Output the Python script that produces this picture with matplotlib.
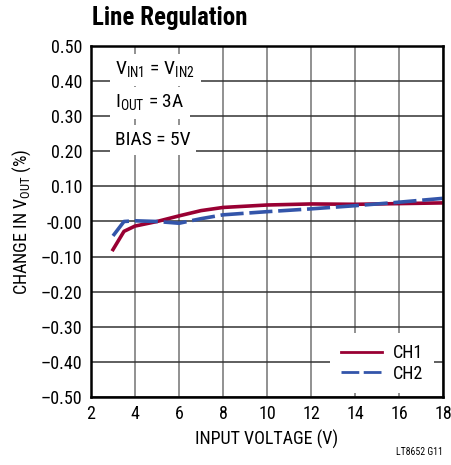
import matplotlib.pyplot as plt
import numpy as np

plt.rcParams['font.family'] = ['Roboto Condensed', 'Liberation Sans', 'DejaVu Sans']
plt.rcParams['mathtext.fontset'] = 'custom'
plt.rcParams['mathtext.rm'] = 'Roboto Condensed'

# CH1 / CH2 line regulation data
vin1 = [3.0, 3.5, 4.0, 5.0, 6.0, 7.0, 8.0, 10.0, 12.0, 14.0, 16.0, 18.0]
ch1 = [-0.080, -0.028, -0.013, 0.000, 0.016, 0.031, 0.040, 0.047, 0.050, 0.049, 0.051, 0.053]
vin2 = [3.0, 3.5, 4.0, 5.0, 6.0, 7.0, 8.0, 10.0, 12.0, 14.0, 16.0, 18.0]
ch2 = [-0.041, 0.000, 0.002, 0.000, -0.005, 0.008, 0.019, 0.028, 0.036, 0.045, 0.055, 0.066]

xticks = np.arange(2, 19, 2)
yticks = np.arange(-0.5, 0.51, 0.1)
notes = [r'V$_{\rm IN1}$ = V$_{\rm IN2}$', r'I$_{\rm OUT}$ = 3A', 'BIAS = 5V']
note_y = [0.432, 0.338, 0.232]

fig = plt.figure(figsize=(4.51, 4.65), dpi=100)
ax = fig.add_axes([91/451, 68/465, 352/451, 351/465])

for x in xticks:
    ax.axvline(x, color='#888888', lw=1.3, zorder=1)
for y in yticks:
    ax.axhline(y, color='#333333', lw=1.1, zorder=1)

ax.plot(vin1, ch1, color='#990033', lw=2.6, label='CH1', zorder=3)
ax.plot(vin2, ch2, color='#3355aa', lw=2.6, dashes=(6.4, 1.6), label='CH2', zorder=3)

ax.set_xlim(2, 18)
ax.set_ylim(-0.5, 0.5)
ax.set_xticks(xticks)
ax.set_yticks(yticks)
ax.set_yticklabels(['%.2f' % v if v > -0.005 else '\u2013%.2f' % abs(v) for v in yticks])
ax.tick_params(length=0, labelsize=13, pad=6)
for s in ax.spines.values():
    s.set_linewidth(1.8)
    s.set_zorder(4)

ax.set_xlabel('INPUT VOLTAGE (V)', fontsize=13, labelpad=5)
ax.set_ylabel(r'CHANGE IN V$_{\rm OUT}$ (%)', fontsize=13, labelpad=6)

for t, y in zip(notes, note_y):
    ax.text(3.1, y, t, fontsize=14, ha='left', va='center', zorder=2,
            bbox=dict(facecolor='white', edgecolor='none', pad=4))

leg = ax.legend(loc='lower right', bbox_to_anchor=(0.986, 0.0), frameon=True, fontsize=13,
                handlelength=2.3, handletextpad=0.6, borderaxespad=0.2, borderpad=0.6,
                labelspacing=0.15)
leg.get_frame().set_edgecolor('none')
leg.get_frame().set_alpha(1)
leg.set_zorder(5)
for ln in leg.get_lines():
    ln.set_linewidth(2.0)

fig.text(92/451, 1 - 18/465, 'Line Regulation', fontsize=18, fontweight='bold', va='center')
fig.text(443/451, 1 - 452/465, 'LT8652 G11', fontsize=7, ha='right', va='center')

plt.savefig('out.png', dpi=100)
